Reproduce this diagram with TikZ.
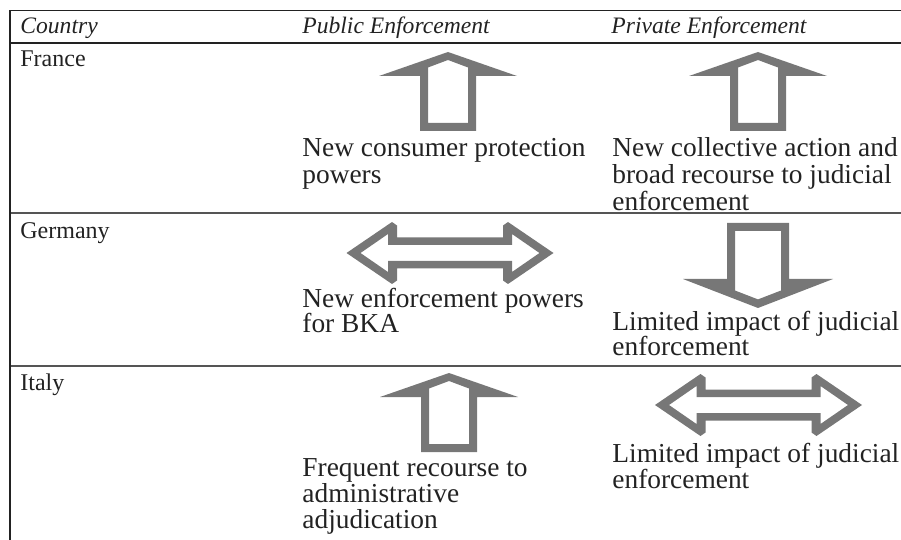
\documentclass[tikz,border=0pt]{standalone}
\usepackage{fontspec}
\setmainfont{Liberation Serif}
\definecolor{arrowgray}{HTML}{777777}
\definecolor{rulegray}{HTML}{555555}
\definecolor{edgeblack}{HTML}{222222}
\tikzset{
  hdr/.style={anchor=base west, inner sep=0pt, font=\fontsize{11.8}{14}\selectfont\itshape, text=edgeblack},
  ctry/.style={anchor=base west, inner sep=0pt, font=\fontsize{12}{14}\selectfont, text=edgeblack},
  cell/.style={anchor=base west, inner sep=0pt, align=left, font=\fontsize{13.7}{13}\selectfont, text=edgeblack},
  widecell/.style={cell, font=\fontsize{13.7}{13.5}\selectfont},
  thinrule/.style={draw=edgeblack, line width=0.7pt},
  rowrule/.style={draw=rulegray, line width=1.1pt},
  uparrow/.pic={\fill[arrowgray,even odd rule]
     (0,0)--(69,24)--(28,24)--(28,79)--(-28,79)--(-28,24)--(-69,24)--cycle
     (0,8)--(20,15.5)--(20,71)--(-20,71)--(-20,15.5)--cycle;},
  downarrow/.pic={\fill[arrowgray,even odd rule]
     (0,0)--(-75,-29)--(-31,-29)--(-31,-85)--(31,-85)--(31,-29)--(75,-29)--cycle
     (0,-8.6)--(-23,-17.5)--(-23,-77)--(23,-77)--(23,-17.5)--cycle;},
  dblarrow/.pic={\fill[arrowgray,even odd rule]
     (-103.5,0)--(-58,-31)--(-53,-27.5)--(-53,-15.5)--(53,-15.5)--(53,-27.5)--(58,-31)--(103.5,0)
       --(58,31)--(53,27.5)--(53,15.5)--(-53,15.5)--(-53,27.5)--(-58,31)--cycle
     (-89.5,0)--(-62,-19)--(-62,-8)--(62,-8)--(62,-19)--(89.5,0)
       --(62,19)--(62,8)--(-62,8)--(-62,19)--cycle;}
}
\begin{document}
\begin{tikzpicture}[x=0.5pt,y=-0.5pt]
\useasboundingbox (0,0) rectangle (901,540);
% table rules
\draw[thinrule] (10,10.5) -- (901,10.5);
\draw[thinrule] (10,43) -- (901,43);
\draw[rowrule] (10,213) -- (901,213);
\draw[rowrule] (10,366) -- (901,366);
\draw[thinrule] (10,10.5) -- (10,540);
% header
\node[hdr] (hcountry) at (20,34) {Country};
\node[hdr] (hpublic) at (302,34) {Public Enforcement};
\node[hdr] (hprivate) at (611,34) {Private Enforcement};
% countries
\node[ctry] (france) at (20,67) {France};
\node[ctry] (germany) at (20,239) {Germany};
\node[ctry] (italy) at (20,390) {Italy};
% arrows
\pic (frpub) at (448,52) {uparrow};
\pic (frpriv) at (758,52) {uparrow};
\pic (depub) at (450,253) {dblarrow};
\pic (depriv) at (758,308) {downarrow};
\pic (itpub) at (449,373) {uparrow};
\pic (itpriv) at (758.5,405) {dblarrow};
% cell texts (base anchor = baseline of the last line)
\node[widecell] (tfrpub) at (302,184) {New consumer protection\\powers};
\node[widecell] (tfrpriv) at (612,211) {New collective action and\\broad recourse to judicial\\enforcement};
\node[cell] (tdepub) at (302,333) {New enforcement powers\\for BKA};
\node[cell] (tdepriv) at (612,356) {Limited impact of judicial\\enforcement};
\node[cell] (titpub) at (302,528) {Frequent recourse to\\administrative\\adjudication};
\node[cell] (titpriv) at (612,488) {Limited impact of judicial\\enforcement};
\end{tikzpicture}
\end{document}
